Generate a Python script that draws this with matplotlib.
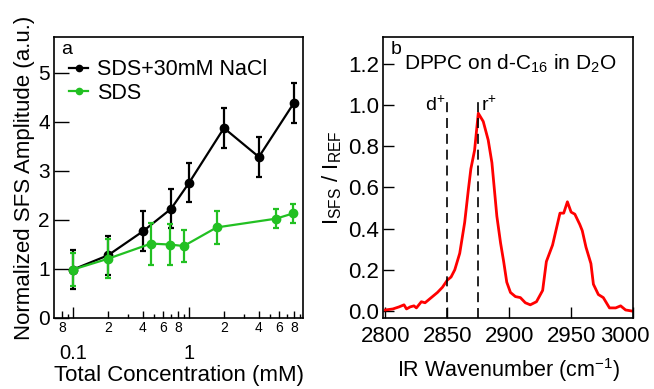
import matplotlib
matplotlib.use("Agg")
import matplotlib.pyplot as plt
import matplotlib.transforms as mtransforms
from matplotlib.lines import Line2D
from matplotlib.ticker import FixedLocator, NullFormatter, FixedFormatter

plt.rcParams['font.family'] = ['Liberation Sans', 'DejaVu Sans']
plt.rcParams['mathtext.fontset'] = 'custom'
plt.rcParams['mathtext.rm'] = 'Liberation Sans'
plt.rcParams['mathtext.default'] = 'regular'

# panel a: SFS amplitude vs concentration
nacl_conc = [0.1, 0.2, 0.4, 0.7, 1.0, 2.0, 4.0, 8.0]
nacl_amp = [0.98, 1.27, 1.76, 2.22, 2.75, 3.87, 3.28, 4.38]
nacl_err = [0.40, 0.40, 0.41, 0.40, 0.40, 0.40, 0.41, 0.41]

sds_conc = [0.1, 0.2, 0.47, 0.69, 0.9, 1.73, 5.65, 7.95]
sds_amp = [0.98, 1.20, 1.51, 1.49, 1.46, 1.84, 2.02, 2.13]
sds_err = [0.33, 0.40, 0.43, 0.42, 0.32, 0.33, 0.19, 0.19]

# panel b: SFS spectrum
wavenumber = [2800, 2806, 2811, 2815, 2817, 2820, 2823, 2825, 2829, 2832,
              2837, 2842, 2846, 2850, 2853, 2856, 2860, 2864, 2867, 2869,
              2872, 2875, 2879, 2883, 2886, 2890, 2893, 2895.5, 2898, 2901,
              2905, 2909, 2913, 2917, 2922, 2927, 2930, 2935, 2941, 2944,
              2947, 2950, 2953, 2957, 2959, 2962, 2966, 2968, 2972, 2976,
              2981, 2986, 2990, 2994, 2999]
intensity = [0.005, 0.01, 0.02, 0.03, 0.01, 0.02, 0.025, 0.015, 0.045, 0.04,
             0.065, 0.09, 0.115, 0.15, 0.165, 0.20, 0.28, 0.43, 0.59, 0.69,
             0.78, 0.96, 0.92, 0.83, 0.72, 0.46, 0.33, 0.24, 0.14, 0.09,
             0.07, 0.065, 0.04, 0.03, 0.045, 0.10, 0.24, 0.32, 0.475, 0.475,
             0.53, 0.48, 0.47, 0.42, 0.39, 0.31, 0.23, 0.13, 0.08, 0.065,
             0.015, 0.015, 0.025, 0.005, 0.0]

green = '#22c022'

fig = plt.figure(figsize=(6.54, 3.89), dpi=100)
ax1 = fig.add_axes([0.0826, 0.1825, 0.3807, 0.7224])
ax2 = fig.add_axes([0.5856, 0.1825, 0.3823, 0.7224])

# ---- panel a
ax1.errorbar(nacl_conc, nacl_amp, yerr=nacl_err, color='black', lw=1.6,
             marker='o', ms=6, capsize=2.5, capthick=1.6, elinewidth=1.6,
             zorder=3)
ax1.errorbar(sds_conc, sds_amp, yerr=sds_err, color=green, lw=1.6,
             marker='o', ms=6, capsize=2.5, capthick=1.6, elinewidth=1.6,
             zorder=4)
ax1.set_xscale('log')
ax1.set_xlim(0.0686, 9.6)
ax1.set_ylim(-0.01, 5.73)
ax1.set_yticks([0, 1, 2, 3, 4, 5])
ax1.tick_params(axis='y', direction='in', length=11, width=1, labelsize=15, pad=3)

ax1.xaxis.set_major_locator(FixedLocator([0.1, 1]))
ax1.xaxis.set_major_formatter(FixedFormatter(['0.1', '1']))
minor_lab = [0.08, 0.2, 0.4, 0.6, 0.8, 2, 4, 6, 8]
ax1.xaxis.set_minor_locator(FixedLocator(minor_lab))
ax1.xaxis.set_minor_formatter(FixedFormatter(['8', '2', '4', '6', '8', '2', '4', '6', '8']))
ax1.tick_params(axis='x', which='major', direction='in', length=8, width=1,
                labelsize=14.5, pad=19)
ax1.tick_params(axis='x', which='minor', direction='in', length=5, width=1,
                labelsize=10, pad=2)
sec = ax1.secondary_xaxis('bottom')
sec.spines['bottom'].set_visible(False)
sec.xaxis.set_major_locator(FixedLocator([0.09, 0.3, 0.5, 0.7, 0.9, 3, 5, 7, 9]))
sec.xaxis.set_major_formatter(NullFormatter())
sec.xaxis.set_minor_locator(FixedLocator([]))
sec.tick_params(axis='x', which='both', direction='in', length=3, width=1)

ax1.set_xlabel('Total Concentration (mM)', fontsize=16, labelpad=1)
ax1.set_ylabel('Normalized SFS Amplitude (a.u.)', fontsize=16, labelpad=2)
ax1.text(0.03, 0.985, 'a', transform=ax1.transAxes, fontsize=14, va='top')
handles = [Line2D([], [], color='black', lw=1.6, marker='o', ms=4.5),
           Line2D([], [], color=green, lw=1.6, marker='o', ms=4.5)]
ax1.legend(handles, ['SDS+30mM NaCl', 'SDS'], loc='upper left',
           bbox_to_anchor=(0.06, 0.92), frameon=False,
           fontsize=15.5, handlelength=0.9, handletextpad=0.4,
           labelspacing=0.1, borderaxespad=0, borderpad=0)

# ---- panel b
ax2.plot(wavenumber, intensity, color='red', lw=2)
ax2.vlines([2850, 2875], -0.034, 1.02, colors='black', lw=1.2,
           linestyles=(0, (6, 3.5)))
ax2.set_xlim(2798, 3000)
ax2.set_ylim(-0.034, 1.33)
ax2.set_xticks([2800, 2850, 2900, 2950, 3000])
ax2.set_yticks([0.0, 0.2, 0.4, 0.6, 0.8, 1.0, 1.2])
ax2.set_yticklabels(['0.0', '0.2', '0.4', '0.6', '0.8', '1.0', '1.2'])
ax2.tick_params(direction='in', length=8, width=1, labelsize=16, pad=3)
ax2.tick_params(axis='x', pad=6)
last = ax2.get_xticklabels()[-1]
last.set_transform(last.get_transform() +
                   mtransforms.ScaledTranslation(-8 / 100, 0, fig.dpi_scale_trans))
ax2.set_xlabel('IR Wavenumber (cm$^{-1}$)', fontsize=15.5, labelpad=6)
ax2.set_ylabel('I$_{SFS}$ / I$_{REF}$', fontsize=16, labelpad=3)
ax2.text(0.03, 0.985, 'b', transform=ax2.transAxes, fontsize=14, va='top')
ax2.text(2815, 1.2, 'DPPC on d-C$_{16}$ in D$_2$O', fontsize=15, va='center')
ax2.text(2848, 1.0, 'd$^{+}$', fontsize=14, ha='right', va='center')
ax2.text(2877, 1.0, 'r$^{+}$', fontsize=14, ha='left', va='center')

for ax in (ax1, ax2):
    for s in ax.spines.values():
        s.set_linewidth(1.2)

fig.savefig('out.png', dpi=100)
